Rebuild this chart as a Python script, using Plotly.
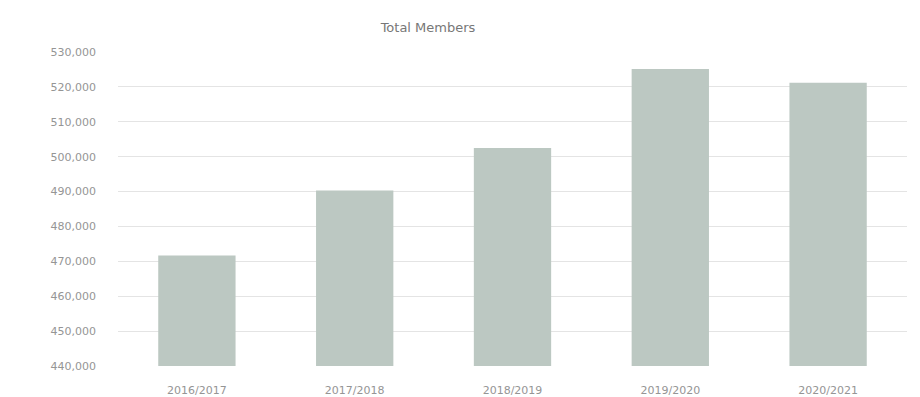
import plotly.graph_objects as go

categories = ["2016/2017", "2017/2018", "2018/2019", "2019/2020", "2020/2021"]
members = [471700, 490300, 502500, 525100, 521200]
tick_values = [440000, 450000, 460000, 470000, 480000, 490000, 500000, 510000, 520000, 530000]
tick_labels = [f"{v:,}" for v in tick_values]

fig = go.Figure(
    go.Bar(
        x=categories,
        y=members,
        marker=dict(color="#BCC8C2", line=dict(width=0)),
        width=0.49,
    )
)

fig.update_layout(
    width=920,
    height=397,
    margin=dict(l=118, r=13, t=52, b=31),
    paper_bgcolor="white",
    plot_bgcolor="white",
    showlegend=False,
    font=dict(family="DejaVu Sans, sans-serif", color="#959595", size=11),
    title=dict(
        text="Total Members",
        x=428 / 920,
        xanchor="center",
        y=1 - 27 / 397,
        yanchor="middle",
        font=dict(family="DejaVu Sans, sans-serif", size=13, color="#777777"),
    ),
)

fig.update_yaxes(
    range=[440000, 530000],
    tickvals=tick_values,
    ticktext=tick_labels,
    showgrid=True,
    gridcolor="#e4e4e4",
    gridwidth=1,
    zeroline=False,
    showline=False,
    ticks="",
    automargin=False,
    ticklabelstandoff=21,
    tickfont=dict(size=11, color="#959595"),
)

fig.update_xaxes(
    showgrid=False,
    showline=False,
    ticks="",
    automargin=False,
    ticklabelstandoff=16,
    tickfont=dict(size=11, color="#959595"),
)

fig.write_html("out.html")
